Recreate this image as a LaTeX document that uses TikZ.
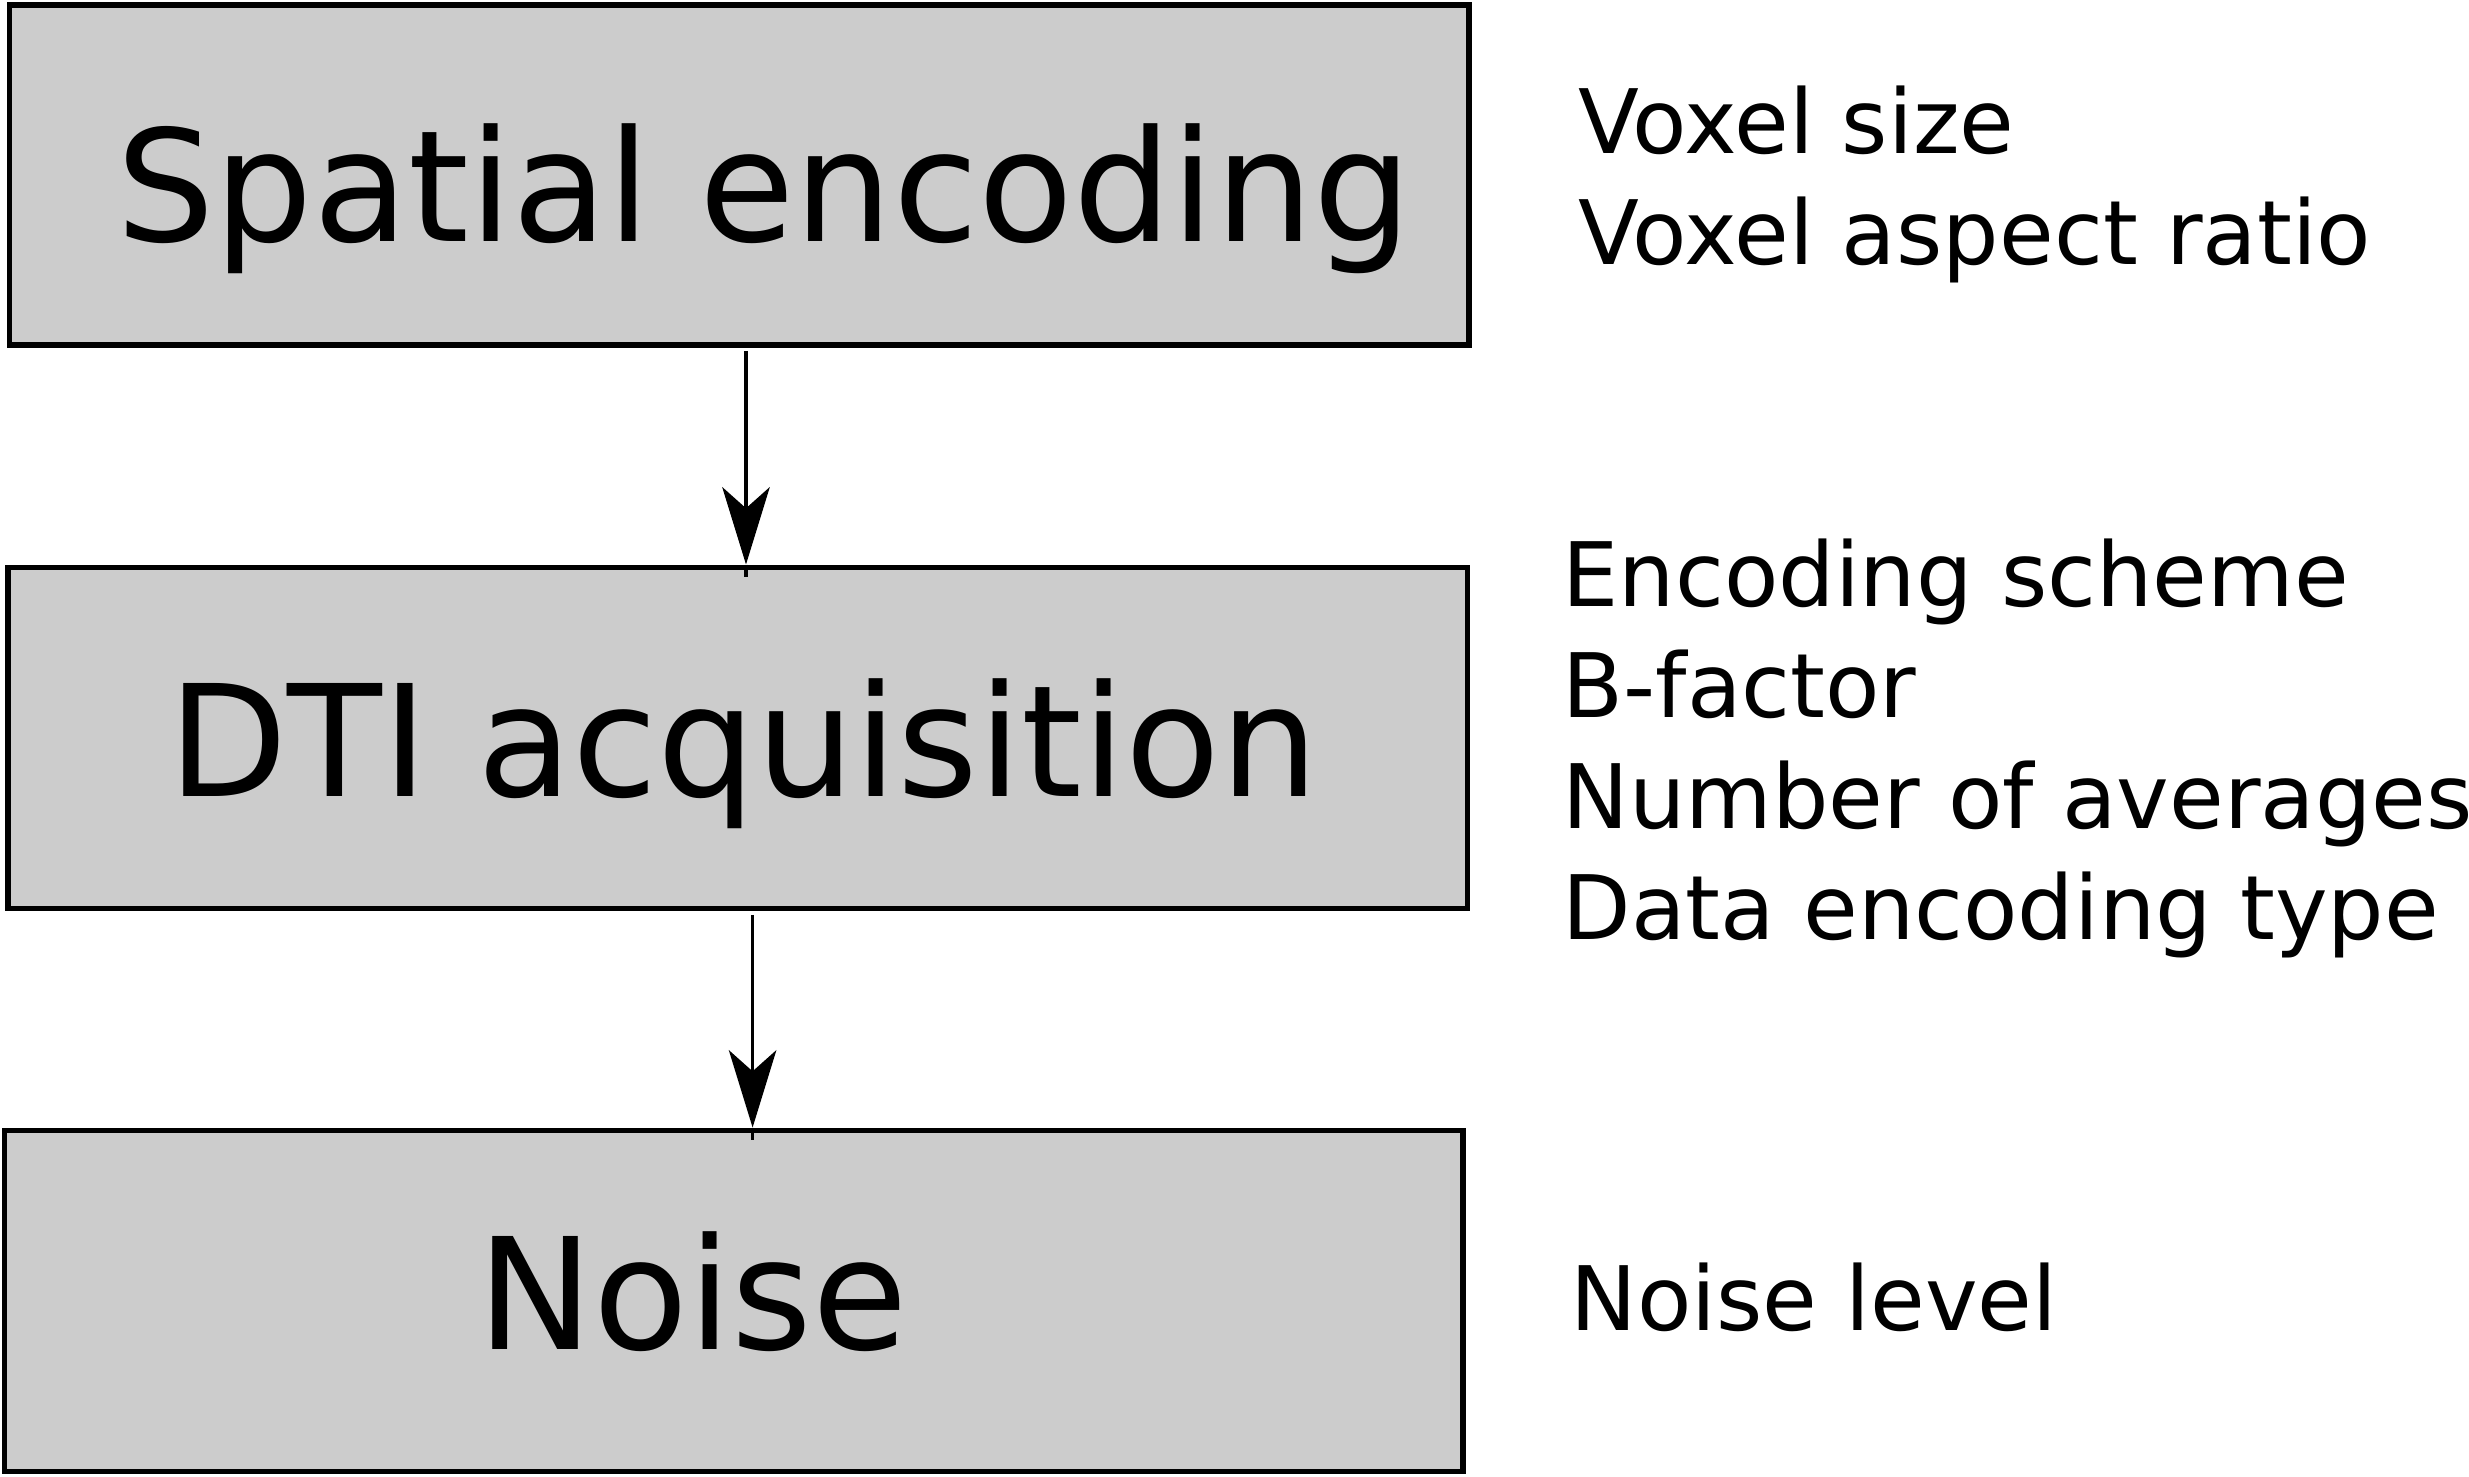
\documentclass[tikz,border=0pt]{standalone}
\usepackage{fontspec}
\setmainfont{DejaVu Sans}
\usetikzlibrary{arrows.meta}
\begin{document}
\begin{tikzpicture}[x=0.01cm,y=-0.01cm,
  box/.style={draw=black,fill=boxgray,line width=1.55pt,rectangle,inner sep=0pt},
  bigtext/.style={inner sep=0pt,anchor=base,font=\fontsize{44.1}{50}\selectfont},
  side/.style={inner sep=0pt,anchor=base west,font=\fontsize{25.3}{30}\selectfont},
  arr/.style={line width=0.9pt,-{Stealth[length=22pt,width=13.5pt,inset=6pt]}},
  shaft/.style={line width=0.9pt}]
\definecolor{boxgray}{HTML}{CCCCCC}
\useasboundingbox (0,0) rectangle (2469,1477);
% boxes
\node[box,minimum width=1459.5*0.01cm,minimum height=340*0.01cm] (box1) at (739.3,175) {};
\node[box,minimum width=1459.6*0.01cm,minimum height=341.5*0.01cm] (box2) at (737.7,738) {};
\node[box,minimum width=1458.3*0.01cm,minimum height=341.4*0.01cm] (box3) at (733.9,1301) {};
% box texts
\node[bigtext] (t1) at (764,242) {Spatial encoding};
\node[bigtext] (t2) at (743.5,797) {DTI acquisition};
\node[bigtext] (t3) at (692.5,1350) {Noise};
% side texts
\node[side] (s1) at (1578,154) {Voxel size};
\node[side] (s2) at (1578,264.5) {Voxel aspect ratio};
\node[side] (s3) at (1562,607) {Encoding scheme};
\node[side] (s4) at (1562,717.5) {B-factor};
\node[side] (s5) at (1562,829) {Number of averages};
\node[side] (s6) at (1562,939.5) {Data encoding type};
\node[side] (s7) at (1570,1330.5) {Noise level};
% arrows
\coordinate (a1s) at (746,351);
\coordinate (a1e) at (a1s |- box2.north);
\draw[arr] (a1s) -- (a1e);
\draw[shaft] (a1e) -- ++(0,12);
\coordinate (a2s) at (752.6,915);
\coordinate (a2e) at (a2s |- box3.north);
\draw[arr] (a2s) -- (a2e);
\draw[shaft] (a2e) -- ++(0,12);
\end{tikzpicture}
\end{document}
